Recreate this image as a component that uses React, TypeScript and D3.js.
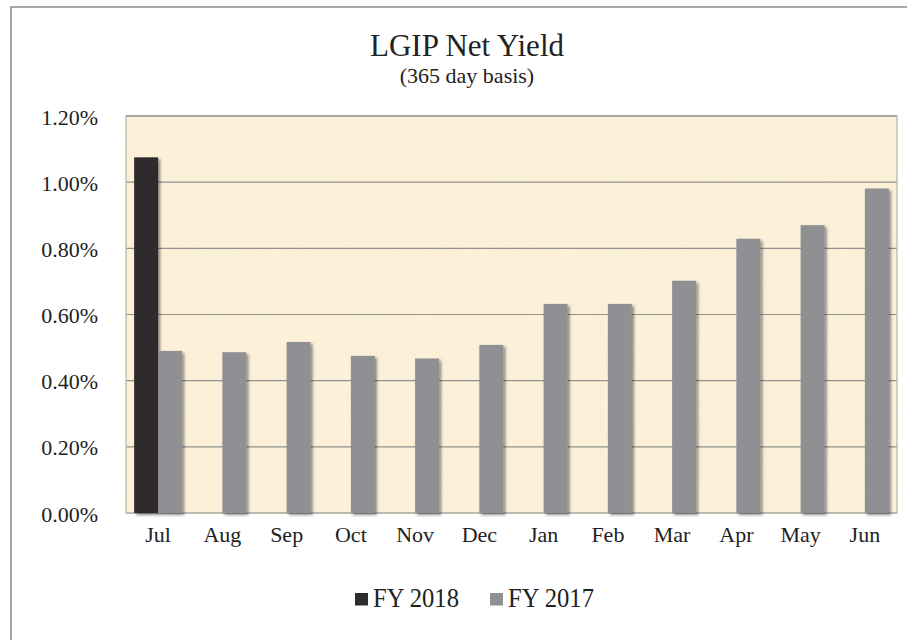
import React from "react";
import * as d3 from "d3";

const months = ["Jul", "Aug", "Sep", "Oct", "Nov", "Dec", "Jan", "Feb", "Mar", "Apr", "May", "Jun"];
const seriesNames = ["FY 2018", "FY 2017"];
const fy2018: (number | null)[] = [0.01075, null, null, null, null, null, null, null, null, null, null, null];
const fy2017: number[] = [0.0049, 0.00486, 0.00517, 0.00475, 0.00467, 0.00508, 0.00632, 0.00632, 0.00702, 0.00829, 0.0087, 0.00981];
const yTicks = [0, 0.002, 0.004, 0.006, 0.008, 0.01, 0.012];
const seriesColors = ["#2e2c2d", "#8f9094"];

const W = 907;
const H = 640;
const plot = { left: 126, right: 897, top: 116, bottom: 513 };

export default function App() {
  const x0 = d3.scaleBand<string>().domain(months).range([plot.left, plot.right]).paddingInner(0).paddingOuter(0);
  const x1 = d3.scaleBand<string>().domain(seriesNames).range([0, x0.bandwidth()]).paddingInner(0).paddingOuter(0.34);
  const y = d3.scaleLinear().domain([0, 0.012]).range([plot.bottom, plot.top]);
  const fmt = d3.format(".2%");
  const values = [fy2018, fy2017];
  const font = "'Liberation Serif', 'Times New Roman', serif";

  return (
    <svg width={W} height={H} style={{ position: "absolute", left: 0, top: 0, background: "#fff" }} fontFamily={font}>
      <defs>
        <filter id="shadow" x="-30%" y="-5%" width="160%" height="110%">
          <feDropShadow dx="2" dy="2" stdDeviation="1.8" floodColor="#000" floodOpacity="0.45" />
        </filter>
        <filter id="paper" x="0" y="0" width="100%" height="100%">
          <feTurbulence type="fractalNoise" baseFrequency="0.012" numOctaves="3" seed="7" result="noise" />
          <feColorMatrix type="matrix" values="0 0 0 0 0.93  0 0 0 0 0.86  0 0 0 0 0.70  0 0 0 1.2 -0.45" result="tint" />
          <feComposite in="tint" in2="SourceGraphic" operator="in" />
        </filter>
      </defs>
      {/* outer frame */}
      <rect x={11} y={7} width={1000} height={800} fill="#fff" stroke="#8a8a8a" strokeWidth={1.5} />
      {/* title */}
      <text x={467} y={56} textAnchor="middle" fontSize={31} fill="#222">LGIP Net Yield</text>
      <text x={467} y={83} textAnchor="middle" fontSize={22} fill="#222">(365 day basis)</text>
      {/* plot background */}
      <rect x={plot.left} y={plot.top} width={plot.right - plot.left} height={plot.bottom - plot.top} fill="#fcf0d8" />
      <rect x={plot.left} y={plot.top} width={plot.right - plot.left} height={plot.bottom - plot.top} fill="#fcf0d8" filter="url(#paper)" opacity={0.4} />
      {/* gridlines */}
      {yTicks.map((t) => (
        <line key={t} x1={plot.left} x2={plot.right} y1={y(t)} y2={y(t)} stroke="#929292" strokeWidth={1.2} />
      ))}
      <rect x={plot.left} y={plot.top} width={plot.right - plot.left} height={plot.bottom - plot.top} fill="none" stroke="#b9b2a6" strokeWidth={1.2} />
      <line x1={plot.left} x2={plot.right} y1={plot.top} y2={plot.top} stroke="#969696" strokeWidth={1.2} />
      {/* bars */}
      {months.map((m, i) => (
        <g key={m} transform={`translate(${x0(m)},0)`}>
          {seriesNames.map((s, k) => {
            const v = values[k][i];
            if (v == null) return null;
            return (
              <rect
                key={s}
                x={x1(s)}
                y={y(v)}
                width={x1.bandwidth()}
                height={y(0) - y(v)}
                fill={seriesColors[k]}
                filter="url(#shadow)"
              />
            );
          })}
        </g>
      ))}
      {/* y labels */}
      {yTicks.map((t) => (
        <text key={t} x={98} y={y(t) + 8.5} textAnchor="end" fontSize={22} fill="#222">{fmt(t)}</text>
      ))}
      {/* x labels */}
      {months.map((m) => (
        <text key={m} x={(x0(m) as number) + x0.bandwidth() / 2} y={541.5} textAnchor="middle" fontSize={22} fill="#222">{m}</text>
      ))}
      {/* legend */}
      {[
        { sx: 355, tx: 373 },
        { sx: 490, tx: 508 },
      ].map((p, k) => (
        <g key={seriesNames[k]}>
          <rect x={p.sx} y={593} width={13} height={12.5} fill={seriesColors[k]} />
          <text transform={`translate(${p.tx},606.5) scale(0.88,1)`} fontSize={28} fill="#222">{seriesNames[k]}</text>
        </g>
      ))}
    </svg>
  );
}
